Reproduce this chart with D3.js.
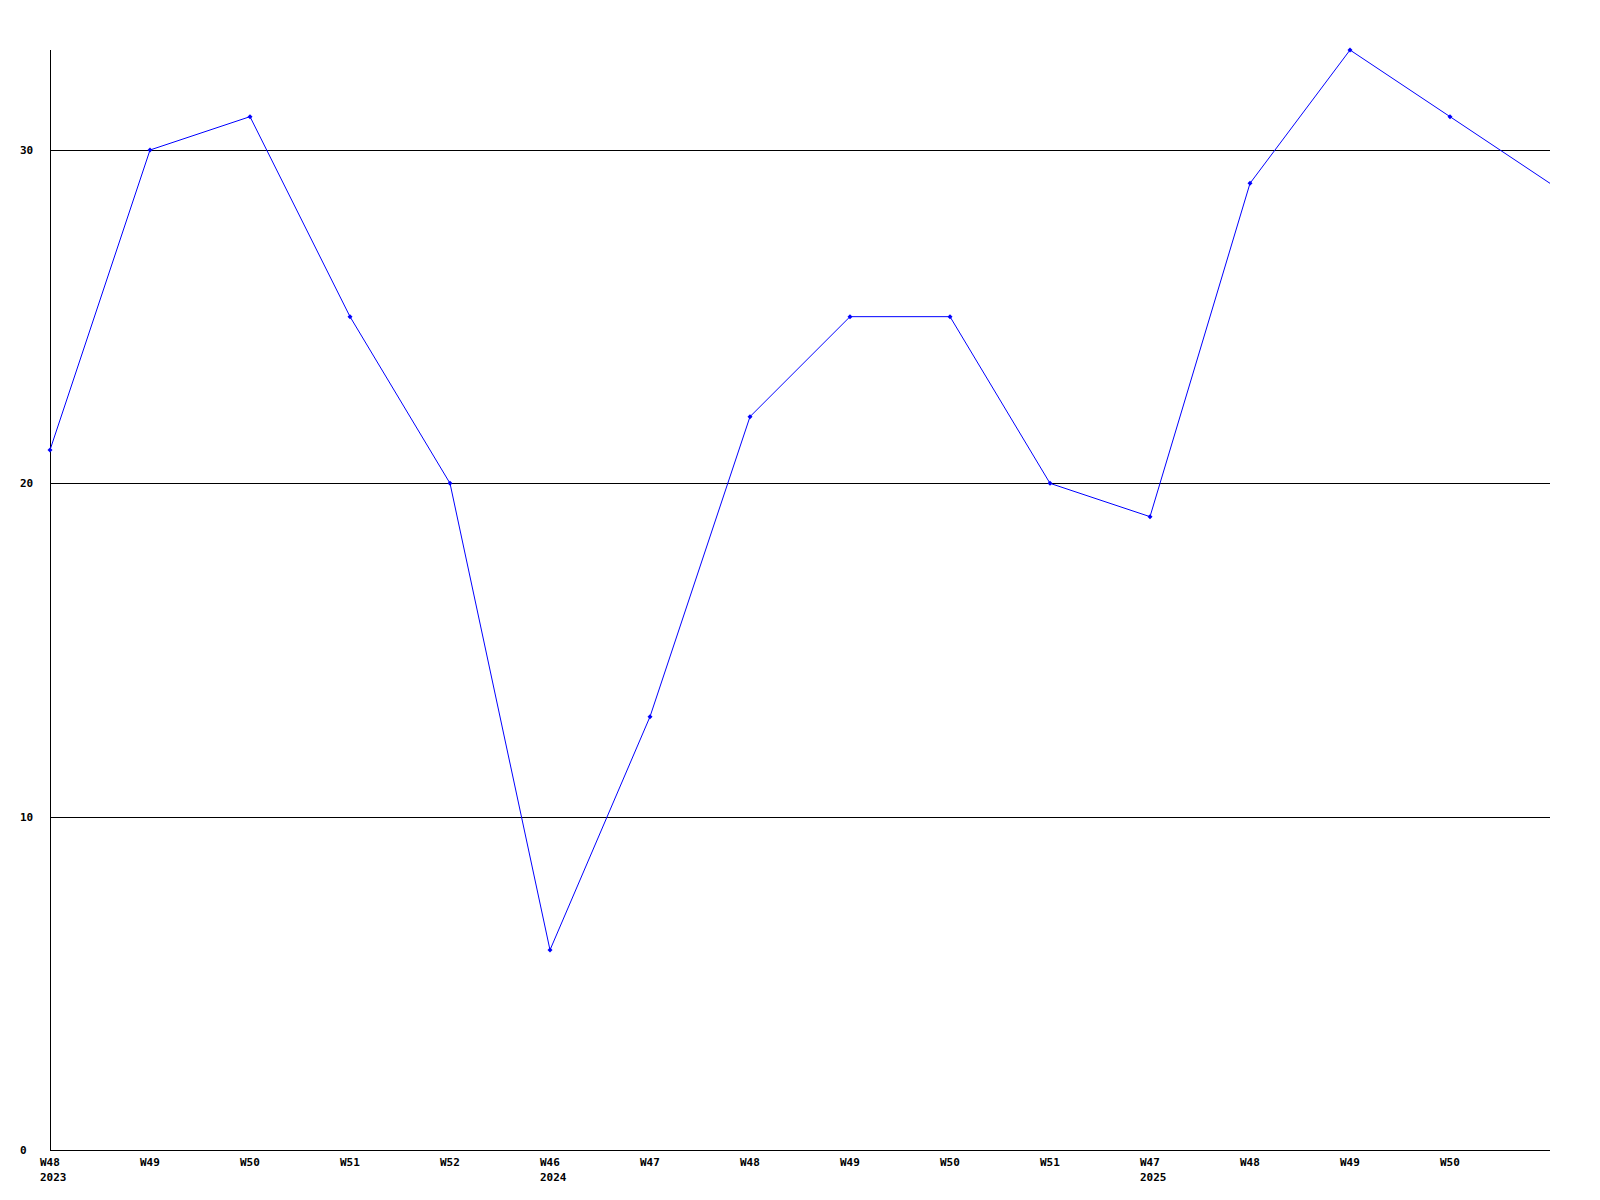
<!DOCTYPE html>
<html>
<head>
  <title>Weekly values</title>
  <script src="https://d3js.org/d3.v7.min.js"></script>
  <style>
    body { margin: 0; background: #fff; }
    text { font-family: "DejaVu Sans Mono", monospace; font-weight: bold; font-size: 11px; fill: #000; }
  </style>
</head>
<body>
  <div id="chart"></div>

  <script>
    const weeks = ["W48", "W49", "W50", "W51", "W52", "W46", "W47", "W48", "W49", "W50", "W51", "W47", "W48", "W49", "W50", ""];
    const years = ["2023", "", "", "", "", "2024", "", "", "", "", "", "2025", "", "", "", ""];
    const values = [21, 30, 31, 25, 20, 6, 13, 22, 25, 25, 20, 19, 29, 33, 31, 29];
    const yTicks = [0, 10, 20, 30];

    const width = 1600;
    const height = 1200;
    const margin = { top: 50, right: 50, bottom: 50, left: 50 };

    const svg = d3.select("#chart")
      .append("svg")
      .attr("width", width)
      .attr("height", height);

    const x = d3.scaleLinear()
      .domain([0, values.length - 1])
      .range([margin.left, width - margin.right]);

    const y = d3.scaleLinear()
      .domain([0, 33])
      .range([height - margin.bottom, margin.top]);

    // grid lines
    svg.append("g")
      .selectAll("line")
      .data(yTicks.filter(d => d > 0))
      .join("line")
      .attr("x1", x(0))
      .attr("x2", x(values.length - 1))
      .attr("y1", d => Math.round(y(d)) + 0.5)
      .attr("y2", d => Math.round(y(d)) + 0.5)
      .attr("stroke", "#000")
      .attr("shape-rendering", "crispEdges");

    // axes
    svg.append("line")
      .attr("x1", margin.left + 0.5).attr("x2", margin.left + 0.5)
      .attr("y1", margin.top).attr("y2", height - margin.bottom)
      .attr("stroke", "#000").attr("shape-rendering", "crispEdges");
    svg.append("line")
      .attr("x1", margin.left).attr("x2", width - margin.right)
      .attr("y1", height - margin.bottom + 0.5).attr("y2", height - margin.bottom + 0.5)
      .attr("stroke", "#000").attr("shape-rendering", "crispEdges");

    // y labels
    svg.append("g")
      .selectAll("text")
      .data(yTicks)
      .join("text")
      .attr("x", 20)
      .attr("y", d => y(d) + 4)
      .text(d => d);

    // x labels
    svg.append("g")
      .selectAll("text")
      .data(weeks)
      .join("text")
      .attr("x", (d, i) => x(i) - 10)
      .attr("y", height - margin.bottom + 16)
      .text(d => d);

    svg.append("g")
      .selectAll("text")
      .data(years)
      .join("text")
      .attr("x", (d, i) => x(i) - 10)
      .attr("y", height - margin.bottom + 31)
      .text(d => d);

    // series line
    const line = d3.line()
      .x((d, i) => x(i))
      .y(d => y(d));

    svg.append("path")
      .datum(values)
      .attr("d", line)
      .attr("fill", "none")
      .attr("stroke", "#0000ff")
      .attr("stroke-width", 1);

    // markers (the last point sits on the plot edge and has none)
    svg.append("g")
      .selectAll("path")
      .data(values.slice(0, -1))
      .join("path")
      .attr("d", (d, i) => {
        const cx = x(i), cy = y(d);
        return `M${cx - 2.5},${cy} L${cx},${cy - 2.5} L${cx + 2.5},${cy} L${cx},${cy + 2.5} Z`;
      })
      .attr("fill", "#0000ff");
  </script>
</body>
</html>
